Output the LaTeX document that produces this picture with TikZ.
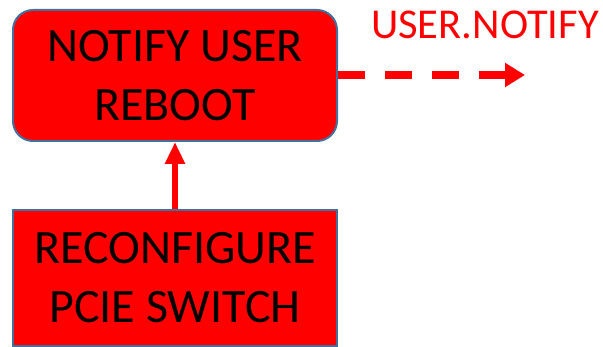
\documentclass[tikz,border=0pt]{standalone}
\usepackage{fontspec}
\setmainfont{Carlito}
\usetikzlibrary{arrows.meta}
\definecolor{boxred}{RGB}{255,0,0}
\definecolor{boxedge}{RGB}{65,113,156}
\tikzset{
  stepbox/.style={draw=boxedge, line width=2pt, fill=boxred, text=black,
    align=center, minimum width=324pt, inner sep=0pt,
    font=\fontsize{48}{59}\selectfont},
  flow/.style={draw=boxred, line width=6.5pt,
    -{Triangle[length=22pt,width=19pt]}},
  signal/.style={draw=boxred, line width=8pt, dash pattern=on 27pt off 20pt,
    -{Triangle[length=20pt,width=23pt]}},
}
\begin{document}
\begin{tikzpicture}[x=1pt,y=-1pt]
  \useasboundingbox (0,0) rectangle (603,347);
  % notification step
  \node[stepbox, rounded corners=20pt, minimum height=131pt] (notify) at (175,75.5)
    {NOTIFY USER\\REBOOT};
  % reconfiguration step
  \node[stepbox, minimum height=136pt, anchor=north] (reconf) at (175,209)
    {\fontsize{48}{57}\selectfont RECONFIGURE\\PCIE SWITCH};
  % outgoing event
  \coordinate (out) at (525,75);
  \node[text=boxred, font=\fontsize{42.5}{50}\selectfont, anchor=base west,
    inner sep=0pt] (evt) at (371,39) {USER.NOTIFY};
  \draw[flow] (reconf.north) -- (notify.south);
  \draw[signal] (notify.east |- out) -- (out);
\end{tikzpicture}
\end{document}
